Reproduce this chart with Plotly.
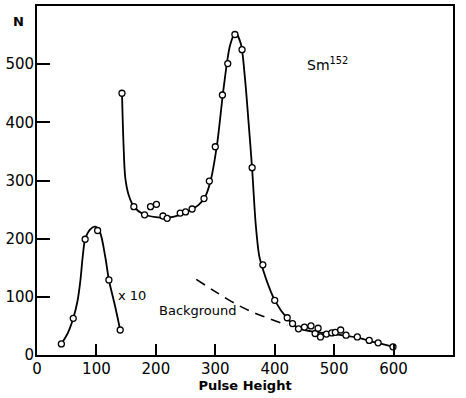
import plotly.graph_objects as go

# Measured points (open circles)
main_x = [143, 163, 181, 191, 201, 212, 219, 241, 250, 261, 281, 290, 300, 312, 321, 333, 345, 362,
          380, 400, 421, 430, 440, 450, 461, 468, 473, 477, 487, 496, 502, 511, 520, 539, 559, 574, 599]
main_y = [450, 255, 241, 255, 259, 239, 235, 244, 246, 251, 269, 299, 358, 447, 501, 551, 525, 322,
          155, 94, 64, 54, 45, 48, 50, 37, 46, 31, 36, 38, 39, 43, 34, 31, 25, 21, 14]

low_x = [41, 61, 81, 102, 121, 140]
low_y = [19, 63, 199, 214, 129, 43]

# Hand-drawn curves
main_curve_x = [143, 145.6, 148.5, 154, 162.5, 179, 200, 218, 241, 260, 272, 283, 292, 303, 314, 325, 334,
                343, 350, 356, 362, 368, 374, 380, 390, 400, 421, 440, 460, 480, 500, 520, 540, 560, 580, 600]
main_curve_y = [450, 362, 305, 276, 256, 242, 237, 236, 241, 250, 258, 272, 299, 362, 459, 533, 554,
                535, 475, 400, 320, 225, 170, 148, 118, 94, 63, 46, 41, 38, 36, 33, 30, 24, 19, 14]

low_curve_x = [41, 52, 61, 68, 73, 77, 81, 89.6, 98, 106, 115, 121, 131.6, 140]
low_curve_y = [19, 38, 63, 92, 128, 170, 199, 216, 220.5, 211, 168, 129, 83, 43]

bg_x = [268, 300, 334, 360, 384, 421]
bg_y = [130, 109, 88, 75, 65, 51]

x_ticks = [0, 100, 200, 300, 400, 500, 600, 700]
y_ticks = [0, 100, 200, 300, 400, 500]

FONT = "DejaVu Sans"

fig = go.Figure()
fig.add_trace(go.Scatter(x=main_curve_x, y=main_curve_y, mode="lines",
                         line=dict(color="black", width=1.8, shape="spline", smoothing=0.8),
                         hoverinfo="skip"))
fig.add_trace(go.Scatter(x=low_curve_x, y=low_curve_y, mode="lines",
                         line=dict(color="black", width=1.8, shape="spline", smoothing=0.8),
                         hoverinfo="skip"))
fig.add_trace(go.Scatter(x=bg_x, y=bg_y, mode="lines",
                         line=dict(color="black", width=1.6, dash="10px,7px", shape="spline"),
                         hoverinfo="skip"))
fig.add_trace(go.Scatter(x=main_x, y=main_y, mode="markers",
                         marker=dict(symbol="circle", size=6, color="white",
                                     line=dict(color="black", width=1.3))))
fig.add_trace(go.Scatter(x=low_x, y=low_y, mode="markers",
                         marker=dict(symbol="circle", size=6, color="white",
                                     line=dict(color="black", width=1.3))))

axis_common = dict(showgrid=False, zeroline=False, showline=True, linecolor="black", linewidth=1.8,
                   mirror=True, ticks="inside", tickcolor="black", tickwidth=1.5,
                   tickfont=dict(family=FONT, size=15, color="black"))

fig.update_xaxes(range=[0, 700], tickvals=x_ticks, ticklen=11, ticklabelstandoff=-1, **axis_common,
                 title=dict(text="<b>Pulse Height</b>", font=dict(family=FONT, size=13, color="black"),
                            standoff=3))
fig.update_yaxes(range=[0, 600], tickvals=y_ticks, ticklen=13, ticklabelstandoff=-2, **axis_common)

fig.add_annotation(xref="paper", yref="paper", x=-0.045, y=0.955, text="<b>N</b>", showarrow=False,
                   xanchor="center", yanchor="middle",
                   font=dict(family=FONT, size=13, color="black"))
fig.add_annotation(x=489, y=501, text="Sm<sup>152</sup>", showarrow=False,
                   font=dict(family=FONT, size=14, color="black"))
fig.add_annotation(x=160, y=103, text="x 10", showarrow=False,
                   font=dict(family=FONT, size=13, color="black"))
fig.add_annotation(x=271, y=76, text="Background", showarrow=False,
                   font=dict(family=FONT, size=13, color="black"))

fig.update_layout(width=466, height=398, showlegend=False,
                  margin=dict(l=37, r=13, t=4, b=43),
                  paper_bgcolor="white", plot_bgcolor="white")

fig.write_html("out.html", config={"displayModeBar": False},
               post_script="document.body.style.margin='0';document.body.style.overflow='hidden';")
